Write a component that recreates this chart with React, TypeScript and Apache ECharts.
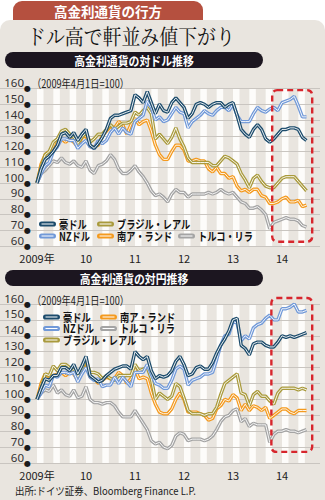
import React, { useEffect, useRef } from "react";
import * as echarts from "echarts";

// ---- categories / labels ----
const NAMES = ["豪ドル", "NZドル", "ブラジル・レアル", "南ア・ランド", "トルコ・リラ"];
const COLORS = ["#1d4c6c", "#7199d8", "#a99a3c", "#f49a1f", "#a4a4a4"];
const X_TICK_MONTHS = [0, 12, 24, 36, 48, 60]; // months since 2009-04
const X_TICK_LABELS = ["2009年", "10", "11", "12", "13", "14"];
const STRIPE_MONTHS = [0, 4, 8, 12, 16, 20, 24, 28, 32, 36, 40, 44, 48, 52, 56, 60, 64];

// ---- 対ドル (monthly, 2009-04 .. 2014-10, 2009/4/1 = 100) ----
const USD_AUD = [100, 109, 115, 117, 120, 124, 131, 132, 129, 132, 127, 131, 134, 124, 122, 125, 129, 134, 141, 143, 143, 144, 145, 146, 156, 154, 151, 158, 151, 144, 150, 146, 145, 151, 154, 151, 148, 141, 144, 150, 151, 150, 148, 150, 151, 151, 148, 150, 151, 143, 134, 131, 129, 134, 137, 134, 128, 126, 128, 131, 134, 134, 135, 135, 134, 129, 127];
const USD_NZD = [100, 106, 111, 113, 120, 123, 128, 128, 127, 127, 122, 125, 127, 123, 122, 127, 125, 127, 132, 135, 131, 135, 132, 131, 139, 141, 143, 152, 148, 140, 142, 139, 140, 144, 148, 145, 144, 135, 139, 141, 143, 146, 144, 143, 146, 148, 148, 146, 150, 143, 139, 139, 139, 144, 148, 146, 145, 147, 148, 146, 151, 152, 153, 155, 149, 142, 142];
const USD_BRL = [100, 110, 118, 120, 126, 128, 133, 134, 131, 129, 125, 129, 132, 126, 128, 131, 131, 134, 137, 134, 136, 138, 138, 139, 145, 143, 146, 148, 144, 128, 131, 128, 125, 129, 135, 128, 123, 116, 113, 113, 113, 113, 113, 111, 111, 114, 117, 116, 114, 112, 106, 102, 97, 103, 105, 101, 98, 97, 97, 100, 103, 104, 104, 104, 101, 98, 95];
const USD_ZAR = [100, 112, 118, 120, 120, 126, 128, 126, 128, 126, 123, 129, 130, 123, 123, 124, 130, 133, 136, 135, 139, 137, 131, 137, 141, 137, 139, 140, 133, 124, 118, 115, 115, 120, 124, 124, 121, 114, 114, 115, 114, 114, 109, 107, 110, 106, 106, 103, 104, 98, 95, 96, 94, 96, 96, 92, 91, 87, 87, 88, 90, 91, 88, 88, 89, 85, 86];
const USD_TRY = [100, 106, 108, 111, 114, 113, 116, 113, 112, 114, 111, 110, 114, 108, 106, 111, 112, 114, 118, 115, 109, 106, 106, 108, 111, 107, 104, 100, 95, 92, 93, 91, 88, 93, 96, 94, 94, 91, 93, 93, 93, 93, 94, 93, 94, 96, 94, 93, 94, 91, 88, 87, 84, 84, 85, 83, 80, 71, 75, 76, 77, 78, 77, 77, 76, 73, 72];

// ---- 対円 ----
const JPY_AUD = [100, 107, 113, 112, 115, 115, 120, 120, 118, 122, 116, 121, 127, 115, 113, 111, 112, 115, 117, 119, 120, 121, 121, 119, 130, 127, 125, 127, 118, 113, 115, 114, 115, 118, 124, 127, 122, 115, 116, 120, 121, 119, 119, 123, 129, 134, 138, 143, 150, 151, 134, 132, 128, 135, 136, 136, 134, 133, 133, 136, 140, 139, 140, 139, 140, 141, 142];
const JPY_NZD = [100, 104, 109, 108, 115, 114, 117, 117, 116, 117, 111, 116, 120, 114, 112, 113, 108, 109, 109, 114, 110, 114, 111, 108, 117, 117, 117, 122, 116, 110, 109, 107, 107, 112, 119, 121, 119, 109, 112, 113, 114, 116, 116, 117, 125, 134, 140, 141, 149, 148, 137, 140, 138, 145, 147, 148, 151, 153, 150, 150, 157, 157, 158, 160, 155, 155, 156];
const JPY_BRL = [100, 107, 116, 115, 121, 118, 122, 122, 120, 119, 114, 119, 125, 117, 117, 116, 113, 115, 113, 112, 115, 115, 115, 115, 122, 118, 119, 120, 113, 100, 104, 102, 100, 102, 110, 108, 101, 93, 91, 91, 91, 90, 91, 91, 95, 103, 110, 112, 114, 116, 104, 103, 96, 103, 105, 102, 102, 99, 97, 104, 107, 107, 107, 107, 106, 107, 106];
const JPY_ZAR = [100, 110, 116, 114, 115, 116, 117, 115, 117, 116, 112, 119, 123, 114, 113, 110, 112, 114, 113, 113, 117, 115, 110, 113, 119, 113, 114, 113, 104, 97, 92, 91, 91, 94, 100, 104, 100, 92, 92, 92, 91, 90, 87, 88, 94, 96, 100, 99, 103, 101, 93, 97, 93, 96, 95, 93, 95, 88, 90, 92, 94, 94, 92, 91, 93, 93, 93];
const JPY_TRY = [100, 104, 106, 105, 109, 104, 106, 103, 102, 106, 101, 102, 108, 100, 98, 98, 97, 98, 98, 96, 92, 89, 89, 89, 93, 89, 85, 81, 74, 72, 73, 70, 69, 71, 77, 79, 78, 74, 75, 75, 75, 74, 75, 77, 81, 86, 89, 90, 93, 94, 86, 88, 83, 85, 84, 84, 84, 73, 78, 80, 80, 81, 80, 80, 79, 80, 81];

// ---- layout ----
const X_MIN = -9.06;
const X_MAX = 69.31;
const Y_MIN = 60;
const Y_MAX = 160;
const Y_STEP = 10;
const STRIPE_WIDTH = 1.6;
const BG = "#e9e5df";
const FONT = "'Noto Sans CJK JP', 'Noto Sans', sans-serif";

export default function App() {
  const ref = useRef<HTMLDivElement>(null);

  useEffect(() => {
    document.body.style.margin = "0";
    const chart = echarts.init(ref.current!, null, { renderer: "svg" });
    const sets = [
      [USD_AUD, USD_NZD, USD_BRL, USD_ZAR, USD_TRY],
      [JPY_AUD, JPY_NZD, JPY_BRL, JPY_ZAR, JPY_TRY],
    ];
    const drawOrder = [4, 3, 2, 1, 0];
    const series: any[] = [];
    sets.forEach((set, g) => {
      // white background stripes
      series.push({
        type: "custom",
        xAxisIndex: g,
        yAxisIndex: g,
        z: 0,
        silent: true,
        clip: false,
        data: STRIPE_MONTHS.map((m) => [m, Y_MIN]),
        renderItem: (_p: any, api: any) => {
          const m = api.value(0);
          const a = api.coord([m, Y_MAX]);
          const b = api.coord([m + STRIPE_WIDTH, Y_MIN]);
          return {
            type: "rect",
            shape: { x: a[0], y: a[1], width: b[0] - a[0], height: b[1] - a[1] },
            style: { fill: "#fdfcfa" },
          };
        },
      });
      drawOrder.forEach((k, j) => {
        const data = set[k].map((v, i) => [i, v]);
        series.push({
          type: "line",
          name: NAMES[k],
          xAxisIndex: g,
          yAxisIndex: g,
          data,
          showSymbol: false,
          symbol: "none",
          silent: true,
          z: 3 + j * 2,
          lineStyle: { color: COLORS[k], width: 3.4 },
          emphasis: { disabled: true },
        });
        series.push({
          type: "line",
          name: NAMES[k] + "_core",
          xAxisIndex: g,
          yAxisIndex: g,
          data,
          showSymbol: false,
          symbol: "none",
          silent: true,
          z: 4 + j * 2,
          lineStyle: { color: "#ffffff", width: 0.9 },
          emphasis: { disabled: true },
        });
      });
    });

    const xAxis = (g: number) => ({
      type: "value",
      gridIndex: g,
      min: X_MIN,
      max: X_MAX,
      axisLine: { show: false },
      axisTick: { show: false },
      splitLine: { show: false },
      axisLabel: {
        customValues: X_TICK_MONTHS,
        margin: 6,
        fontSize: 11,
        color: "#222",
        fontFamily: FONT,
        formatter: (v: number) => X_TICK_LABELS[X_TICK_MONTHS.indexOf(Math.round(v))] ?? "",
      },
    });
    const yAxis = (g: number) => ({
      type: "value",
      gridIndex: g,
      min: Y_MIN,
      max: Y_MAX,
      interval: Y_STEP,
      z: 1.5,
      axisLine: { show: false },
      axisTick: { show: false },
      splitLine: { show: true, lineStyle: { color: "#c9c5c0", width: 1 } },
      axisLabel: {
        inside: true,
        margin: 24,
        align: "right",
        verticalAlign: "bottom",
        showMinLabel: true,
        showMaxLabel: true,
        fontSize: 11.5,
        color: "#333",
        fontFamily: "'Noto Sans', sans-serif",
      },
    });
    // second axis on each grid carrying the tick dots
    const dotAxis = (g: number) => ({
      type: "value",
      gridIndex: g,
      min: Y_MIN,
      max: Y_MAX,
      interval: Y_STEP,
      z: 1.5,
      position: "left",
      axisLine: { show: false },
      axisTick: { show: false },
      splitLine: { show: false },
      axisLabel: {
        inside: true,
        margin: 31,
        align: "right",
        verticalAlign: "middle",
        showMinLabel: true,
        showMaxLabel: true,
        fontSize: 8,
        lineHeight: 6,
        fontWeight: "bold",
        color: "#1a1a1a",
        fontFamily: "'DejaVu Sans', sans-serif",
        formatter: () => "●",
      },
    });

    const legendLayout = [
      [[39, 224], [39, 236], [97, 224], [97, 236], [178, 236]],
      [[43, 317], [43, 328.5], [43, 340], [100, 317], [100, 328.5]],
    ];
    const legendEls: any[] = [];
    legendLayout.forEach((pos, g) => {
      pos.forEach(([x, y], k) => {
        legendEls.push({
          type: "rect", id: `lgr${g}${k}`, z: 60,
          shape: { x, y: y - 2.6, width: 17, height: 5.2, r: 2.6 },
          style: { fill: COLORS[k] },
        });
        legendEls.push({
          type: "line", id: `lgl${g}${k}`, z: 61,
          shape: { x1: x + 2.5, y1: y, x2: x + 14.5, y2: y },
          style: { stroke: "#ffffff", lineWidth: 1 },
        });
        legendEls.push({
          type: "text", id: `lgt${g}${k}`, z: 61, x: x + 20, y, scaleX: 0.8,
          style: { text: NAMES[k], fill: "#111", fontSize: 11.5, fontWeight: "bold", fontFamily: FONT, align: "left", verticalAlign: "middle" },
        });
      });
    });

    const staticEls: any[] = [
      { type: "rect", id: "panel", z: -10, shape: { x: 0, y: 20, width: 325, height: 480, r: [10, 10, 0, 0] }, style: { fill: BG } },
      { type: "rect", id: "pill", z: -9, shape: { x: 13, y: 1, width: 190, height: 19, r: [9, 9, 0, 0] }, style: { fill: "#b5503f" } },
      { type: "text", id: "title", z: 60, x: 108, y: 11, style: { text: "高金利通貨の行方", fill: "#fff", fontSize: 13.5, fontWeight: "bold", fontFamily: FONT, align: "center", verticalAlign: "middle" } },
      { type: "text", id: "subtitle", z: 60, x: 27, y: 35.5, scaleX: 0.9, style: { text: "ドル高で軒並み値下がり", fill: "#111", fontSize: 21, fontFamily: "'Noto Serif CJK JP', 'Noto Sans CJK JP', serif", align: "left", verticalAlign: "middle" } },
      { type: "rect", id: "h1", z: -9, shape: { x: 5, y: 52, width: 258, height: 16, r: 8 }, style: { fill: "#1c1620" } },
      { type: "text", id: "h1t", z: 60, x: 134, y: 60.5, scaleX: 0.87, style: { text: "高金利通貨の対ドル推移", fill: "#fff", fontSize: 12.5, fontWeight: "bold", fontFamily: FONT, align: "center", verticalAlign: "middle" } },
      { type: "rect", id: "h2", z: -9, shape: { x: 5, y: 270, width: 258, height: 16, r: 8 }, style: { fill: "#1c1620" } },
      { type: "text", id: "h2t", z: 60, x: 134, y: 278.5, scaleX: 0.87, style: { text: "高金利通貨の対円推移", fill: "#fff", fontSize: 12.5, fontWeight: "bold", fontFamily: FONT, align: "center", verticalAlign: "middle" } },
      { type: "text", id: "n1", z: 60, x: 32, y: 83.5, scaleX: 0.8, style: { text: "（2009年4月1日=100）", fill: "#222", fontSize: 11.5, fontFamily: FONT, align: "left", verticalAlign: "middle" } },
      { type: "text", id: "n2", z: 60, x: 32, y: 300, scaleX: 0.8, style: { text: "（2009年4月1日=100）", fill: "#222", fontSize: 11.5, fontFamily: FONT, align: "left", verticalAlign: "middle" } },
      { type: "text", id: "src", z: 60, x: 15, y: 490, scaleX: 0.9, style: { text: "出所:ドイツ証券、Bloomberg Finance L.P.", fill: "#222", fontSize: 10.5, fontFamily: FONT, align: "left", verticalAlign: "middle" } },
      ...legendEls,
    ];

    chart.setOption({
      animation: false,
      backgroundColor: "#ffffff",
      textStyle: { fontFamily: FONT },
      grid: [
        { left: 0, width: 320, top: 88.5, height: 157.5 },
        { left: 0, width: 320, top: 304, height: 159 },
      ],
      xAxis: [xAxis(0), xAxis(1)],
      yAxis: [yAxis(0), yAxis(1), dotAxis(0), dotAxis(1)],
      series,
      graphic: { elements: staticEls },
    });

    // dashed highlight boxes (recent period)
    const BOXES = [
      { g: 0, x0: 57.6, x1: 67.4, y0: 62.7, y1: 159 },
      { g: 1, x0: 57.4, x1: 67.4, y0: 67, y1: 163.8 },
    ];
    const boxEls = BOXES.map((b, idx) => {
      const p0 = chart.convertToPixel({ gridIndex: b.g }, [b.x0, b.y1]) as number[];
      const p1 = chart.convertToPixel({ gridIndex: b.g }, [b.x1, b.y0]) as number[];
      return {
        type: "rect", id: `box${idx}`, z: 70,
        shape: { x: p0[0], y: p0[1], width: p1[0] - p0[0], height: p1[1] - p0[1], r: 5 },
        style: { fill: "none", stroke: "#d7262d", lineWidth: 2.4, lineDash: [6, 4] },
      };
    });
    chart.setOption({ graphic: { elements: [...staticEls, ...boxEls] } });

    return () => chart.dispose();
  }, []);

  return <div ref={ref} style={{ position: "fixed", left: 0, top: 0, width: 325, height: 500 }} />;
}
